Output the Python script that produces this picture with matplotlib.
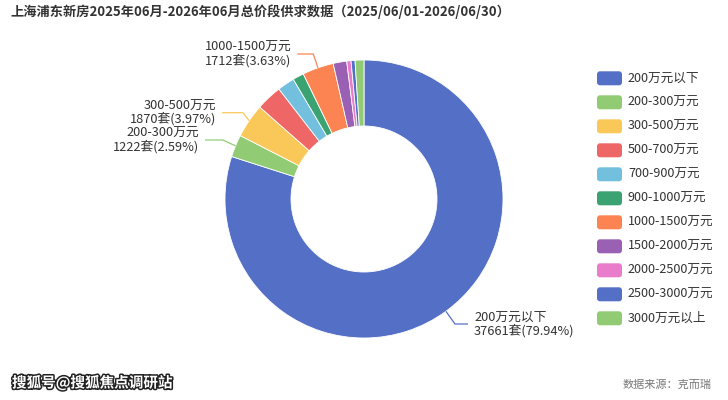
import matplotlib
matplotlib.use("Agg")
import matplotlib.pyplot as plt
import numpy as np
from matplotlib.patches import FancyBboxPatch
import matplotlib.patheffects as pe

plt.rcParams['font.family'] = ['Noto Sans CJK SC', 'DejaVu Sans']

# ---------------- data ----------------
categories = ['200万元以下', '200-300万元', '300-500万元', '500-700万元', '700-900万元',
              '900-1000万元', '1000-1500万元', '1500-2000万元', '2000-2500万元',
              '2500-3000万元', '3000万元以上']
counts = [37661, 1222, 1870, 1421, 937, 612, 1712, 739, 235, 217, 485]
percent_labels = ['79.94', '2.59', '3.97', None, None, None, '3.63', None, None, None, None]
title = '上海浦东新房2025年06月-2026年06月总价段供求数据（2025/06/01-2026/06/30）'
source = '数据来源：克而瑞'
watermark = '搜狐号@搜狐焦点调研站'

colors = ['#5470c6', '#91cc75', '#fac858', '#ee6666', '#73c0de', '#3ba272',
          '#fc8452', '#9a60b4', '#ea7ccc', '#5470c6', '#91cc75']

W, H = 728, 400
fig = plt.figure(figsize=(W / 100, H / 100), dpi=100)
ax = fig.add_axes([0, 0, 1, 1])

def Y(y):
    return H - y

cx, cy, R, r_in = 364, 199, 139, 73
wedges, _ = ax.pie(counts, colors=colors, startangle=90, counterclock=False,
                   center=(cx, Y(cy)), radius=R,
                   wedgeprops=dict(width=R - r_in, edgecolor='white', linewidth=0.6))
ax.set_xlim(0, W)
ax.set_ylim(0, H)
ax.set_aspect('auto')
ax.axis('off')

# label layout: index -> (elbow x, elbow y, end x, text side)
layout = {
    0: (455, 324, 468, 'left'),
    1: (223, 140, 205, 'right'),
    2: (243, 112.7, 222, 'right'),
    6: (313.3, 54, 297.3, 'right'),
}
lab_fs = 9.2
for i, (ex, ey, hx, side) in layout.items():
    w = wedges[i]
    mid = np.deg2rad((w.theta1 + w.theta2) / 2)
    sx = cx + R * np.cos(mid)
    sy = Y(cy) + R * np.sin(mid)
    ax.plot([sx, ex, hx], [sy, Y(ey), Y(ey)], color=colors[i], lw=0.9,
            solid_capstyle='butt', zorder=1)
    txt = f'{categories[i]}\n{counts[i]}套({percent_labels[i]}%)'
    if side == 'left':
        ax.text(hx + 6, Y(ey), txt, ha='left', va='center', fontsize=lab_fs,
                color='#333333', linespacing=1.0, multialignment='left')
    else:
        ax.text(hx - 6, Y(ey), txt, ha='right', va='center', fontsize=lab_fs,
                color='#333333', linespacing=1.0, multialignment='right')

# legend
leg_x, leg_y0, leg_dy = 597, 78.3, 24.0
for i, (cat, col) in enumerate(zip(categories, colors)):
    yy = leg_y0 + i * leg_dy
    box = FancyBboxPatch((leg_x, Y(yy) - 7), 25, 14,
                         boxstyle='round,pad=0,rounding_size=3',
                         facecolor=col, edgecolor='none')
    ax.add_patch(box)
    ax.text(leg_x + 31, Y(yy), cat, ha='left', va='center', fontsize=9.1, color='#333333')

# title
t = ax.text(10, Y(12), title, ha='left', va='center', fontsize=12.5,
            fontweight='bold', color='#333333')
fig.canvas.draw()
bb = t.get_window_extent()
t.set_fontsize(12.5 * 500 / bb.width)

# footer
ax.text(712, Y(385), source, ha='right', va='center', fontsize=8, color='#777777')
ax.text(12, Y(383), watermark, ha='left', va='center', fontsize=10.5,
        fontweight='bold', color='white',
        path_effects=[pe.Stroke(linewidth=2.2, foreground='#222222'), pe.Normal()])

fig.savefig('out.png', dpi=100)
